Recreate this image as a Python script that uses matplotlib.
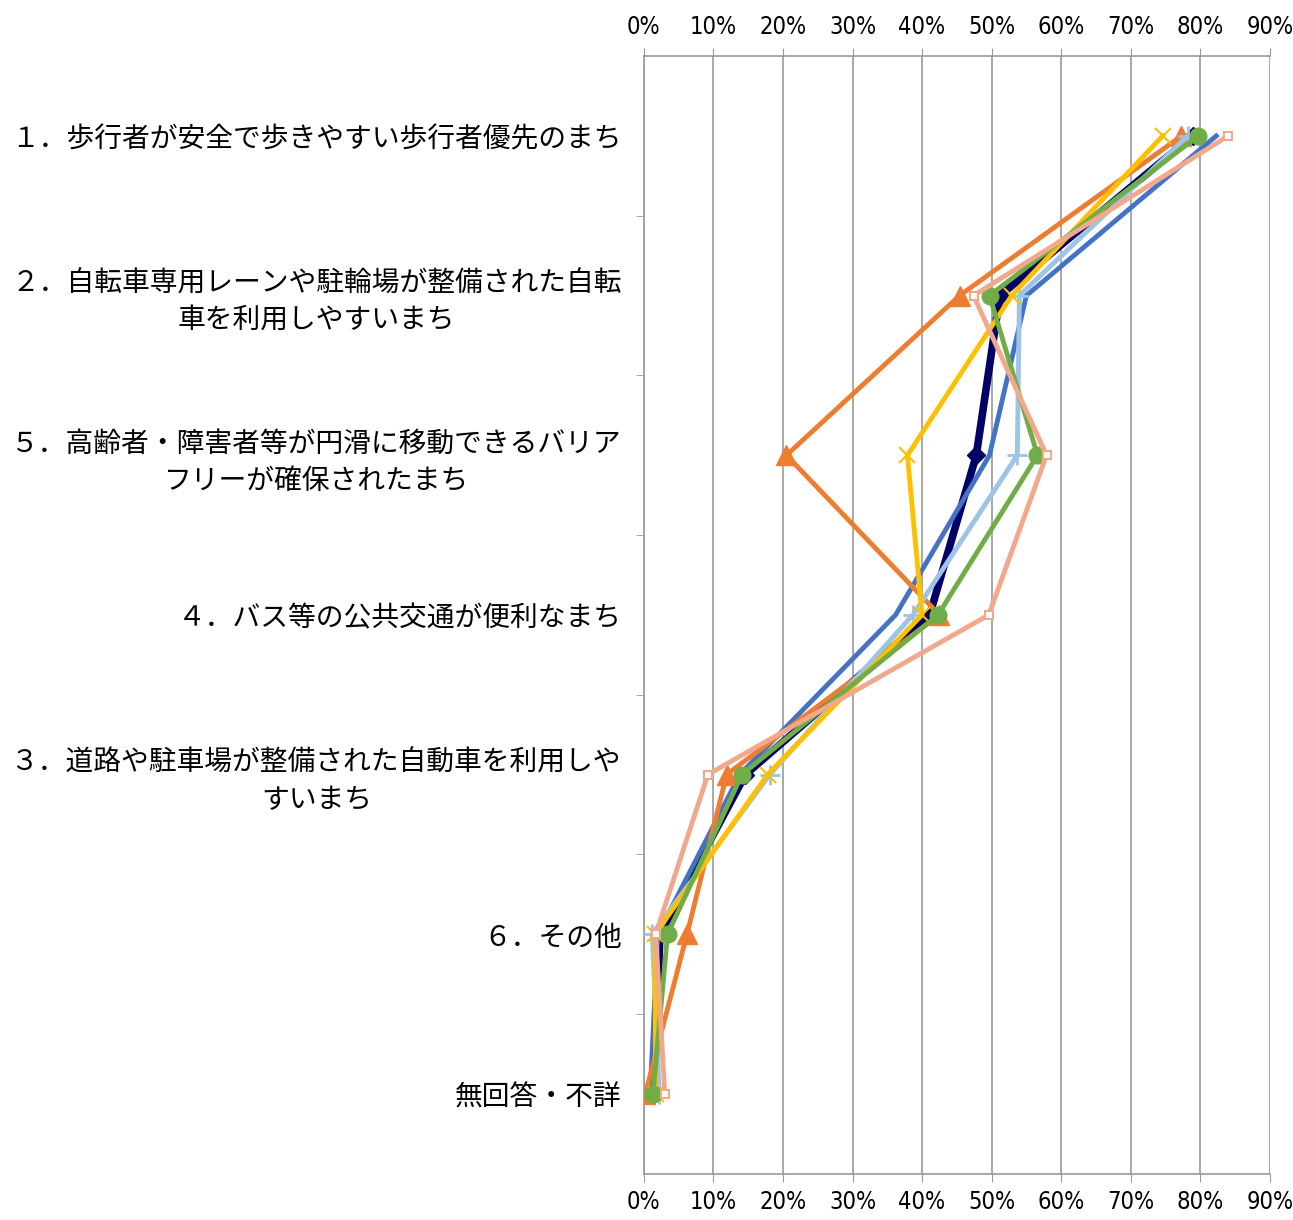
import matplotlib.pyplot as plt
import numpy as np

plt.rcParams['font.family'] = ['Noto Sans CJK JP', 'DejaVu Sans']

categories = [
    '１．歩行者が安全で歩きやすい歩行者優先のまち',
    '２．自転車専用レーンや駐輪場が整備された自転\n車を利用しやすいまち',
    '５．高齢者・障害者等が円滑に移動できるバリア\nフリーが確保されたまち',
    '４．バス等の公共交通が便利なまち',
    '３．道路や駐車場が整備された自動車を利用しや\nすいまち',
    '６．その他',
    '無回答・不詳',
]

navy = [78.9, 51.2, 47.8, 41.1, 14.6, 2.3, 1.5]
blue = [82.3, 55.0, 49.7, 36.2, 13.8, 2.0, 0.9]
orange = [77.3, 45.4, 20.5, 42.5, 11.9, 6.2, 0.2]
light_blue = [78.2, 54.0, 53.7, 38.7, 18.1, 1.2, 2.2]
gold = [74.6, 52.9, 37.9, 40.0, 17.8, 1.6, 1.7]
green = [79.7, 49.7, 56.6, 42.3, 14.1, 3.4, 1.3]
salmon = [84.0, 47.4, 57.9, 49.6, 9.2, 1.7, 3.0]

x_ticks = np.arange(0, 91, 10)

fig = plt.figure(figsize=(12.93, 12.2), dpi=100)
ax = fig.add_axes([0.498, 0.038, 0.484, 0.916])

y = np.arange(len(categories))
ax.plot(navy, y, color='#000066', lw=5.5, marker='D', ms=9, zorder=3)
ax.plot(blue, y, color='#4472C4', lw=3.5, zorder=3)
ax.plot(orange, y, color='#ED7D31', lw=3.5, marker='^', ms=14, zorder=3)
ax.plot(light_blue, y, color='#9DC3E6', lw=3.5, marker='+', ms=14, mew=2, zorder=3)
ax.plot(gold, y, color='#FFC000', lw=3.5, marker='x', ms=11, mew=1.5, zorder=3)
ax.plot(green, y, color='#70AD47', lw=3.5, marker='o', ms=12, zorder=3)
ax.plot(salmon, y, color='#F1A88C', lw=3.5, marker='s', ms=6, mfc='white', mew=1.5, zorder=3)

ax.set_xlim(0, 90)
ax.set_ylim(len(categories) - 0.5, -0.5)
ax.set_xticks(x_ticks)
ax.set_xticklabels([f'{v}%' for v in x_ticks], family='DejaVu Sans', stretch='condensed', fontsize=17)
ax.tick_params(axis='x', top=True, labeltop=True, bottom=True, labelbottom=True,
               length=6, color='#999999', pad=6)
ax.grid(axis='x', color='#999999', lw=1.2)

ax.set_yticks(y)
ax.set_yticklabels(categories, fontsize=20, multialignment='center', linespacing=1.3)
ax.set_yticks(np.arange(len(categories) - 1) + 0.5, minor=True)
ax.tick_params(axis='y', which='major', length=0, pad=16)
ax.tick_params(axis='y', which='minor', length=6, color='#999999')

for side in ['left', 'top', 'bottom']:
    ax.spines[side].set_color('#999999')
    ax.spines[side].set_linewidth(1.2)
ax.spines['right'].set_visible(False)

plt.savefig('out.png', dpi=100)
